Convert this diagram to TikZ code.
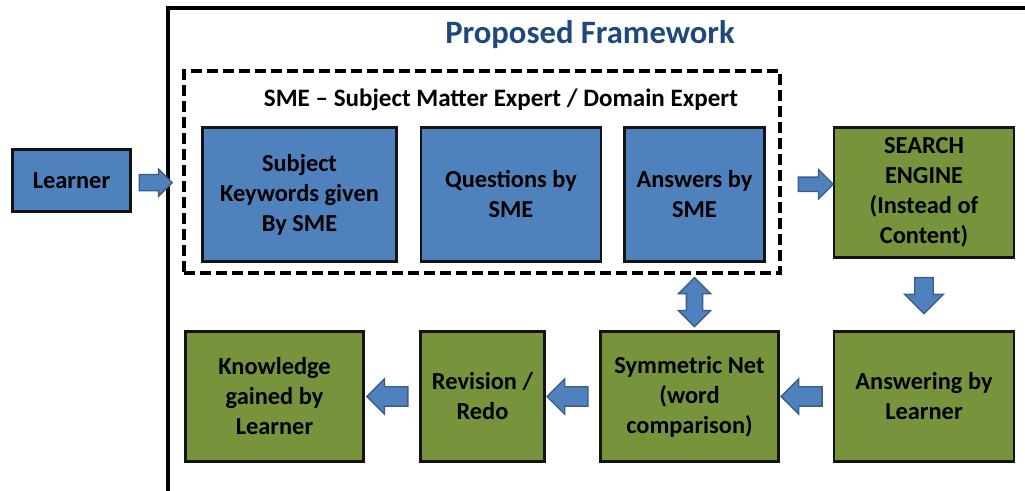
\documentclass[tikz,border=0pt]{standalone}
\usepackage{fontspec}
\setmainfont{Carlito}
\usetikzlibrary{positioning,shapes.arrows,calc}

\definecolor{boxblue}{HTML}{4F81BD}
\definecolor{boxgreen}{HTML}{77933C}
\definecolor{arrowedge}{HTML}{385D8A}
\definecolor{titleblue}{HTML}{1F497D}

\begin{document}
\begin{tikzpicture}[x=0.75pt,y=-0.75pt,
    box/.style={draw=black!92, line width=2.2pt, align=center, inner sep=0pt,
        font=\fontsize{18.3}{22.5}\selectfont\bfseries},
    bluebox/.style={box, fill=boxblue},
    greenbox/.style={box, fill=boxgreen},
    blockarrow/.style={single arrow, draw=arrowedge, fill=boxblue, line width=1pt},
    twoarrow/.style={double arrow, draw=arrowedge, fill=boxblue, line width=1pt}]
    \useasboundingbox (0,0) rectangle (1025,491);

    % 
    \draw[line width=2.3pt] (168,500) |- (1040,8);
    \coordinate (frameL) at (168,184.5);
    \node[font=\fontsize{24.5}{28}\selectfont\bfseries, text=titleblue] at (590,35) {Proposed Framework};

    % 
    \node[draw, line width=2.3pt, dash pattern=on 8pt off 4pt, minimum width=447pt, minimum height=151.5pt] (sme) at (482,172) {};
    \node[font=\fontsize{18.8}{22}\selectfont\bfseries] at (501,100) {SME -- Subject Matter Expert / Domain Expert};

    % 
    \node[bluebox, minimum width=88pt, minimum height=46pt] (learner) at (71.5,180.5) {Learner};
    \node[bluebox, minimum width=146pt, minimum height=100pt] (keywords) at (299.5,194.5) {Subject\\Keywords given\\By SME};
    \node[bluebox, minimum width=135pt, minimum height=100pt] (questions) at (511,194.5) {Questions by\\SME};
    \node[bluebox, minimum width=105pt, minimum height=100pt] (answers) at (694.5,194.5) {Answers by\\SME};
    \node[greenbox, minimum width=135pt, minimum height=98pt] (search) at (924,192.5) {SEARCH\\ENGINE\\(Instead of\\Content)};

    % 
    \node[greenbox, minimum width=135pt, minimum height=98pt] (answering) at (924,396.5) {Answering by\\Learner};
    \node[greenbox, minimum width=134pt, minimum height=98pt] (symnet) at (689.5,396.5) {Symmetric Net\\(word\\comparison)};
    \node[greenbox, minimum width=93pt, minimum height=98pt] (revision) at (482.5,396.5) {Revision /\\Redo};
    \node[greenbox, minimum width=134pt, minimum height=98pt] (knowledge) at (274.5,396.5) {Knowledge\\gained by\\Learner};

    % 
    \node[blockarrow, inner sep=5.6pt, minimum height=24.75pt, single arrow head extend=4.1pt] at ($(learner.east)!0.55!(frameL)$) {};
    \node[blockarrow, inner sep=4.9pt, minimum height=26.25pt, single arrow head extend=5.6pt] at ($(sme.east)!0.6!(search.west)$) {};
    \node[blockarrow, inner sep=6.4pt, minimum height=27pt, single arrow head extend=7.5pt, shape border rotate=270] at ($(search.south)!0.45!(answering.north)$) {};
    \node[blockarrow, inner sep=6.75pt, minimum height=30.75pt, single arrow head extend=6pt, shape border rotate=180] at ($(answering.west)!0.5!(symnet.east)$) {};
    \node[blockarrow, inner sep=6.75pt, minimum height=30.75pt, single arrow head extend=6pt, shape border rotate=180] at ($(symnet.west)!0.5!(revision.east)$) {};
    \node[blockarrow, inner sep=6.75pt, minimum height=30.75pt, single arrow head extend=6pt, shape border rotate=180] at ($(revision.west)!0.5!(knowledge.east)$) {};
    \node[twoarrow, inner sep=5.6pt, minimum height=36.75pt, double arrow head extend=6pt, shape border rotate=90] at ($(sme.south -| answers)!0.5!(symnet.north -| answers)$) {};
\end{tikzpicture}
\end{document}
